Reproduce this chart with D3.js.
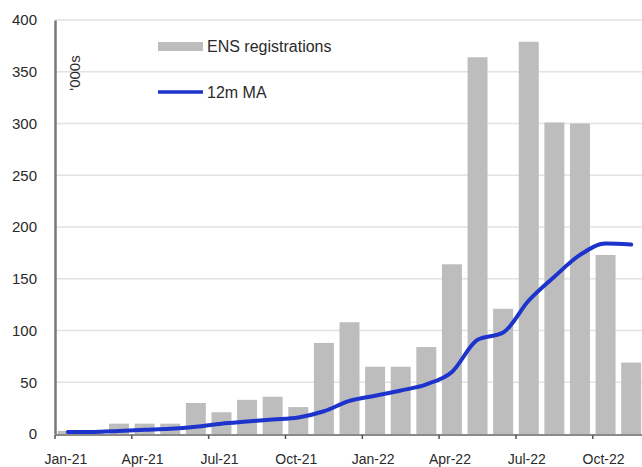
<!DOCTYPE html>
<html>
<head>
<meta charset="utf-8">
<script src="https://cdn.jsdelivr.net/npm/d3@7"></script>
<style>
html,body{margin:0;padding:0;background:#fff;}
svg{display:block;}
text{font-family:"Liberation Sans",Arial,sans-serif;fill:#2a2a2a;}
</style>
</head>
<body>
<svg id="chart" width="642" height="467"></svg>
<script>
const months = ["Jan-21","Feb-21","Mar-21","Apr-21","May-21","Jun-21","Jul-21","Aug-21","Sep-21","Oct-21","Nov-21","Dec-21",
                "Jan-22","Feb-22","Mar-22","Apr-22","May-22","Jun-22","Jul-22","Aug-22","Sep-22","Oct-22","Nov-22"];
const registrations = [3, 3, 10, 10, 10, 30, 21, 33, 36, 26, 88, 108, 65, 65, 84, 164, 364, 121, 379, 301, 300, 173, 69];
const movingAvg = [2, 2, 3, 4, 5, 7, 10, 12, 14, 16, 22, 32, 37, 42, 48, 60, 91, 98, 129, 152, 173, 184, 183];
const tickLabels = ["Jan-21","Apr-21","Jul-21","Oct-21","Jan-22","Apr-22","Jul-22","Oct-22"];
const yTicks = [0, 50, 100, 150, 200, 250, 300, 350, 400];
const seriesNames = ["ENS registrations", "12m MA"];

const FONT = '"Liberation Sans",Arial,sans-serif';
const svg = d3.select("#chart");
const mL = 55, mR = 644, mT = 20, mB = 434;

const x = d3.scaleBand().domain(months).range([mL, mR]).paddingInner(0.22).paddingOuter(0.11);
const xStep = x.step();
const y = d3.scaleLinear().domain([0, 400]).range([mB, mT]);

// gridlines
svg.append("g").selectAll("line").data(yTicks.filter(d => d > 0)).join("line")
  .attr("x1", mL).attr("x2", 642)
  .attr("y1", d => y(d)).attr("y2", d => y(d))
  .attr("stroke", "#e2e2e2").attr("stroke-width", 1.5);

// bars
svg.append("g").selectAll("rect").data(registrations).join("rect")
  .attr("x", (d, i) => x(months[i]))
  .attr("width", x.bandwidth())
  .attr("y", d => y(d))
  .attr("height", d => mB - y(d))
  .attr("fill", "#bdbdbd");

// bottom axis
const xAxis = d3.axisBottom(x).tickValues(tickLabels).tickSize(4).tickPadding(15);
const gx = svg.append("g").attr("transform", `translate(0,${mB + 1})`).call(xAxis);
gx.select(".domain").attr("stroke", "#8a8a8a").attr("stroke-width", 2)
  .attr("d", `M${mL},0H${mR}`);
gx.selectAll(".tick line").attr("stroke", "#555").attr("stroke-width", 1.5)
  .attr("x1", -xStep / 2).attr("x2", -xStep / 2);
gx.selectAll(".tick text").attr("font-size", 14).attr("fill", "#2a2a2a").attr("dx", -2)
  .style("font-family", FONT);

// left axis
const yAxis = d3.axisLeft(y).tickValues(yTicks).tickSize(0).tickPadding(18);
const gy = svg.append("g").attr("transform", `translate(${mL},0)`).call(yAxis);
gy.select(".domain").attr("stroke", "#7a7a7a").attr("stroke-width", 2.5);
gy.selectAll(".tick text").attr("font-size", 15).attr("fill", "#2a2a2a")
  .style("font-family", FONT);

// moving average line
const line = d3.line()
  .x((d, i) => x(months[i]) + x.bandwidth() / 2)
  .y(d => y(d))
  .curve(d3.curveMonotoneX);
svg.append("path").datum(movingAvg)
  .attr("fill", "none").attr("stroke", "#1d33cc").attr("stroke-width", 4)
  .attr("stroke-linejoin", "round").attr("stroke-linecap", "round")
  .attr("d", line);

// unit label
svg.append("text").attr("transform", "translate(80,73) rotate(-90)")
  .attr("text-anchor", "middle").attr("font-size", 15).text("'000s");

// legend
const lg = svg.append("g");
lg.append("rect").attr("x", 158).attr("y", 42).attr("width", 45).attr("height", 9).attr("fill", "#bdbdbd");
lg.append("text").attr("x", 207).attr("y", 52).attr("font-size", 16).text(seriesNames[0]);
lg.append("line").attr("x1", 158).attr("x2", 203).attr("y1", 92).attr("y2", 92)
  .attr("stroke", "#1d33cc").attr("stroke-width", 3.5);
lg.append("text").attr("x", 207).attr("y", 98).attr("font-size", 16).text(seriesNames[1]);
</script>
</body>
</html>
